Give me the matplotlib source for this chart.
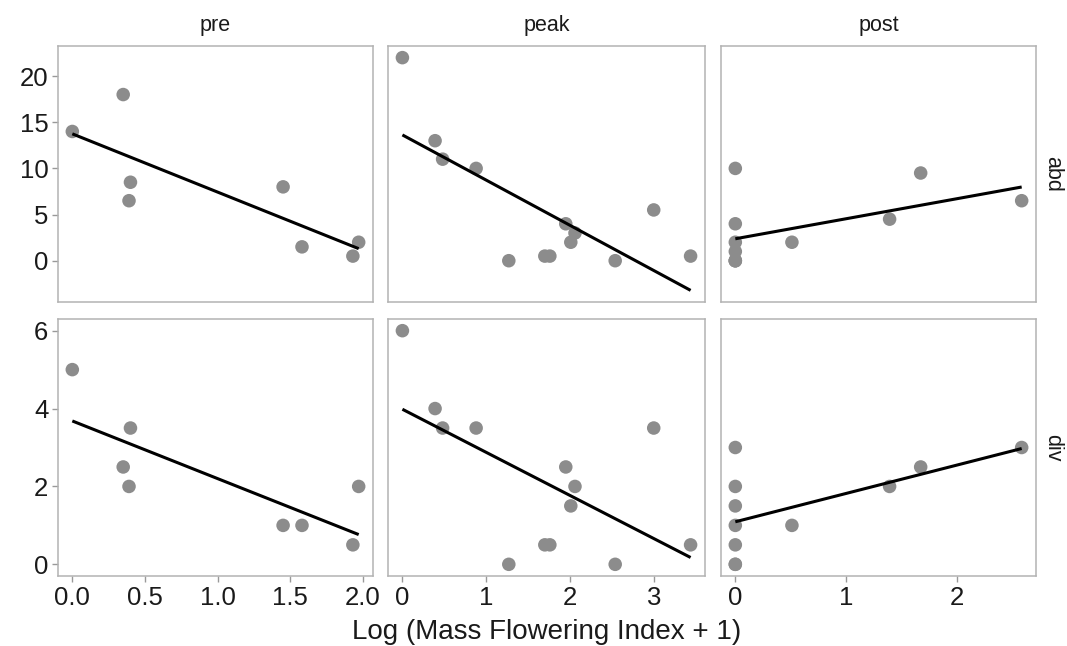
import numpy as np
import matplotlib
matplotlib.use("Agg")
import matplotlib.pyplot as plt

plt.rcParams['font.family'] = ['Liberation Sans', 'DejaVu Sans']

# data
periods = ['pre', 'peak', 'post']
measures = ['abd', 'div']

pre_x = [0.0, 0.35, 0.39, 0.40, 1.45, 1.58, 1.93, 1.97]
pre_abd = [14, 18, 6.5, 8.5, 8, 1.5, 0.5, 2]
pre_div = [5, 2.5, 2, 3.5, 1, 1, 0.5, 2]

peak_x = [0.0, 0.39, 0.48, 0.88, 1.27, 1.70, 1.76, 1.95, 2.01, 2.06, 2.54, 3.00, 3.44]
peak_abd = [22, 13, 11, 10, 0, 0.5, 0.5, 4, 2, 3, 0, 5.5, 0.5]
peak_div = [6, 4, 3.5, 3.5, 0, 0.5, 0.5, 2.5, 1.5, 2, 0, 3.5, 0.5]

post_x = [0, 0, 0, 0, 0, 0, 0, 0.51, 1.39, 1.67, 2.58]
post_abd = [10, 4, 2, 1, 0, 0, 0, 2, 4.5, 9.5, 6.5]
post_div = [3, 2, 1.5, 1, 0.5, 0, 0, 1, 2, 2.5, 3]

xs = {'pre': pre_x, 'peak': peak_x, 'post': post_x}
ys = {('pre', 'abd'): pre_abd, ('pre', 'div'): pre_div,
      ('peak', 'abd'): peak_abd, ('peak', 'div'): peak_div,
      ('post', 'abd'): post_abd, ('post', 'div'): post_div}

xticks = {'pre': [0.0, 0.5, 1.0, 1.5, 2.0], 'peak': [0, 1, 2, 3], 'post': [0, 1, 2]}
xticklabels = {'pre': ['0.0', '0.5', '1.0', '1.5', '2.0'], 'peak': ['0', '1', '2', '3'],
               'post': ['0', '1', '2']}
yticks = {'abd': [0, 5, 10, 15, 20], 'div': [0, 2, 4, 6]}

W, H = 1067, 646
col_px = [(58, 373), (388, 705), (721, 1036)]
row_px = [(46, 302), (319, 576)]

fig = plt.figure(figsize=(W / 100, H / 100), dpi=100)


def expand(lo, hi, f=0.05):
    d = hi - lo
    return lo - f * d, hi + f * d


# fitted lines (lm) per panel
fits = {}
for p in periods:
    x = np.array(xs[p], float)
    for m in measures:
        y = np.array(ys[(p, m)], float)
        b, a = np.polyfit(x, y, 1)
        xl = np.array([x.min(), x.max()])
        fits[(p, m)] = (xl, a + b * xl)

# shared y range per row
ylims = {}
for m in measures:
    vals = []
    for p in periods:
        vals += list(ys[(p, m)]) + list(fits[(p, m)][1])
    ylims[m] = expand(min(vals), max(vals))

border = '#b3b3b3'
for r, m in enumerate(measures):
    for c, p in enumerate(periods):
        x0, x1 = col_px[c]
        y0, y1 = row_px[r]
        ax = fig.add_axes([x0 / W, 1 - y1 / H, (x1 - x0) / W, (y1 - y0) / H])
        ax.scatter(xs[p], ys[(p, m)], s=95, color='#8c8c8c', edgecolors='none', zorder=2)
        xl, yl = fits[(p, m)]
        ax.plot(xl, yl, color='black', lw=2.2, zorder=3, solid_capstyle='butt')
        ax.set_xlim(*expand(min(xs[p]), max(xs[p])))
        ax.set_ylim(*ylims[m])
        for sp in ax.spines.values():
            sp.set_color(border)
            sp.set_linewidth(1.1)
        ax.tick_params(color='#999999', width=1.0, length=4, labelsize=18.5,
                       labelcolor='#1a1a1a', pad=3)
        ax.set_xticks(xticks[p])
        ax.set_yticks(yticks[m])
        if r == len(measures) - 1:
            ax.set_xticklabels(xticklabels[p])
        else:
            ax.tick_params(axis='x', bottom=False, labelbottom=False)
        if c != 0:
            ax.tick_params(axis='y', left=False, labelleft=False)
        if r == 0:
            ax.text(0.5, 1 + 20 / (y1 - y0), p, transform=ax.transAxes, ha='center',
                    va='center', fontsize=15.5, color='#1a1a1a')
        if c == len(periods) - 1:
            ax.text(1 + 17 / (x1 - x0), 0.5, m, transform=ax.transAxes, ha='center',
                    va='center', rotation=-90, fontsize=15.5, color='#1a1a1a')

fig.text((col_px[0][0] + col_px[2][1]) / 2 / W, 1 - 632 / H,
         'Log (Mass Flowering Index + 1)', ha='center', va='center',
         fontsize=20, color='#1a1a1a')

fig.savefig('out.png', dpi=100)
